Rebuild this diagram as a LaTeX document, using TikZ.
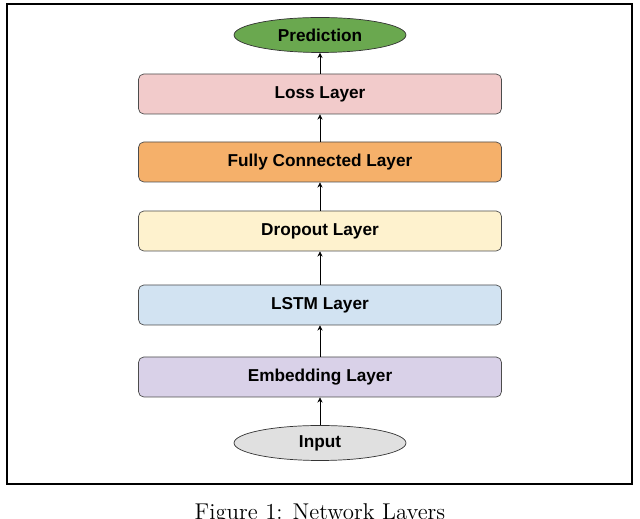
\documentclass[tikz,border=0pt]{standalone}
\usepackage{fontspec}
\newfontfamily\arial{Liberation Sans}
\usetikzlibrary{arrows.meta, positioning, shapes.geometric}
\definecolor{losscol}{HTML}{F2CBCB}
\definecolor{fccol}{HTML}{F5B06A}
\definecolor{dropcol}{HTML}{FEF2CE}
\definecolor{lstmcol}{HTML}{D2E3F2}
\definecolor{embcol}{HTML}{D9D1E8}
\definecolor{predcol}{HTML}{6AA84F}
\definecolor{inputcol}{HTML}{E0E0E0}
\begin{document}
\begin{tikzpicture}[
    x=0.02cm, y=-0.02cm,
    layer/.style={rectangle, draw=black!70, minimum width=7.26cm, minimum height=0.8cm, rounded corners=3pt, font=\arial\bfseries\fontsize{9.8}{11}\selectfont},
    terminal/.style={ellipse, draw=black!80, minimum width=3.44cm, minimum height=0.7cm, inner sep=0pt, font=\arial\bfseries\fontsize{9.8}{11}\selectfont},
    arrow/.style={-{Stealth[length=3pt,width=3pt]}, thin}
]
    \useasboundingbox (0,0) rectangle (640,519);
    \draw[line width=1pt] (7,4) rectangle (632,484);

    % --- Layers ---
    \node[terminal, fill=predcol] (pred) at (320,35) {Prediction};
    \node[layer, fill=losscol] (loss) at (320,94) {Loss Layer};
    \node[layer, fill=fccol] (fc) at (320,162) {Fully Connected Layer};
    \node[layer, fill=dropcol] (drop) at (320,231) {Dropout Layer};
    \node[layer, fill=lstmcol] (lstm) at (320,305) {LSTM Layer};
    \node[layer, fill=embcol] (emb) at (320,377) {Embedding Layer};
    \node[terminal, fill=inputcol] (input) at (320,443) {Input};

    % --- Connections ---
    \draw[arrow] (input) -- (emb);
    \draw[arrow] (emb) -- (lstm);
    \draw[arrow] (lstm) -- (drop);
    \draw[arrow] (drop) -- (fc);
    \draw[arrow] (fc) -- (loss);
    \draw[arrow] (loss) -- (pred);

    % --- Caption ---
    \node[font=\fontsize{13}{15}\selectfont] (caption) at (320,514) {Figure 1: Network Layers};
\end{tikzpicture}
\end{document}
